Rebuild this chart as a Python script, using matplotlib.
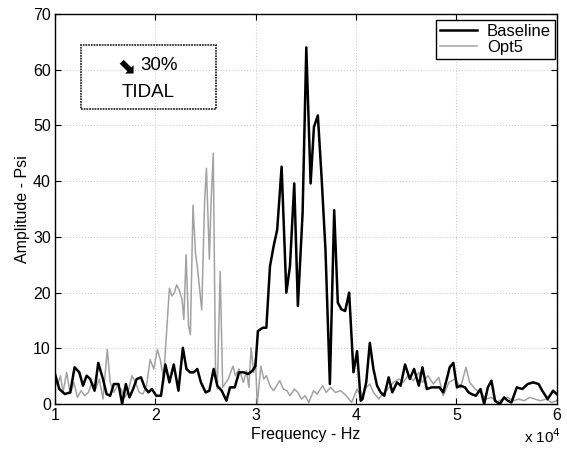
import matplotlib.pyplot as plt
from matplotlib.patches import Rectangle
from matplotlib.ticker import FuncFormatter, MultipleLocator

plt.rcParams['font.family'] = ['Liberation Sans', 'DejaVu Sans']

# Baseline spectrum (frequency in Hz, amplitude in psi)
freq_base = [10000, 10430, 10980, 11520, 11950, 12420, 12790, 13150, 13510, 13940,
             14310, 14780, 15140, 15500, 15860, 16330, 16690, 17060, 17420, 17780,
             18140, 18570, 18940, 19300, 19660, 20090, 20560, 21000, 21400, 21830,
             22300, 22740, 23100, 23460, 23820, 24180, 24540, 25010, 25380, 25810,
             26170, 26610, 27080, 27440, 27910, 28340, 28780, 29250, 29680, 29970,
             30220, 30690, 31060, 31420, 31780, 32140, 32580, 33050, 33410, 33840,
             34200, 34670, 35040, 35470, 35800, 36190, 36560, 36950, 37390, 37820,
             38180, 38540, 38910, 39310, 39740, 40100, 40460, 40640, 41010, 41370,
             41730, 42090, 42450, 42810, 43250, 43610, 44080, 44440, 44880, 45350,
             45780, 46250, 46610, 47050, 47520, 47880, 48310, 48680, 49040, 49330,
             49690, 50050, 50410, 50850, 51210, 51500, 51930, 52400, 52760, 53130,
             53490, 53850, 54320, 54750, 55120, 55480, 56020, 56560, 57100, 57640,
             58190, 58550, 59090, 59630, 60000]
amp_base = [5.4, 2.7, 1.8, 2.1, 6.6, 5.7, 3.3, 5.1, 4.5, 2.4,
            7.4, 4.5, 1.8, 1.5, 3.6, 3.6, 0.0, 3.6, 1.2, 2.7,
            4.5, 4.8, 3.0, 2.1, 2.7, 1.5, 1.5, 7.1, 3.9, 7.1,
            2.4, 10.1, 6.3, 5.7, 5.7, 6.3, 3.9, 2.1, 2.4, 6.3,
            3.3, 2.4, 0.6, 3.0, 3.0, 5.7, 5.7, 5.4, 6.0, 6.8,
            13.1, 13.7, 13.7, 24.7, 28.3, 31.3, 42.6, 20.0, 24.7, 39.6,
            17.6, 34.2, 64.0, 39.6, 49.7, 51.8, 40.8, 27.7, 3.6, 34.8,
            18.2, 17.0, 16.7, 20.0, 5.7, 9.5, 0.6, 0.9, 3.9, 11.0,
            6.3, 3.3, 2.1, 1.5, 4.8, 2.1, 3.9, 3.3, 7.1, 4.5,
            6.3, 3.3, 6.6, 2.7, 3.0, 3.0, 3.0, 2.1, 4.5, 6.6,
            7.4, 3.0, 3.3, 3.0, 2.1, 1.8, 1.5, 2.7, 0.0, 3.0,
            4.2, 0.6, 0.0, 1.2, 0.6, 0.3, 3.0, 2.7, 3.6, 3.9,
            3.6, 2.4, 0.9, 2.4, 1.8]

# Opt5 spectrum
freq_opt5 = [10000, 10250, 10540, 10800, 11160, 11520, 11880, 12240, 12600, 12970,
             13330, 13690, 14050, 14410, 14780, 15210, 15500, 15860, 16220, 16580,
             16950, 17310, 17670, 18030, 18390, 18760, 19120, 19480, 19840, 20200,
             20490, 20820, 21110, 21400, 21650, 21900, 22120, 22370, 22660, 22840,
             23060, 23310, 23490, 23750, 24000, 24180, 24440, 24620, 24910, 25090,
             25380, 25560, 25770, 25990, 26170, 26460, 26710, 27260, 27730, 27980,
             28340, 28780, 29070, 29320, 29540, 29790, 29970, 30150, 30510, 30800,
             31060, 31420, 31780, 32390, 32760, 33120, 33410, 33840, 34200, 34570,
             34930, 35290, 35760, 36120, 36660, 37030, 37460, 37930, 38470, 39020,
             39560, 40100, 40460, 41010, 41370, 41730, 42270, 42630, 43180, 43720,
             44260, 44700, 45170, 45710, 46250, 46610, 47160, 47700, 48240, 48680,
             49250, 49870, 50410, 50950, 51320, 51860, 52400, 52940, 53490, 54030,
             54570, 55120, 55660, 56200, 56750, 57290, 57830, 58370, 58910, 59460,
             60000]
amp_opt5 = [4.5, 3.3, 5.1, 2.1, 5.7, 1.8, 3.9, 1.2, 2.4, 1.5,
            2.1, 3.9, 2.7, 4.5, 0.9, 9.8, 3.9, 2.1, 3.3, 2.7,
            1.2, 2.4, 5.1, 3.9, 2.1, 1.8, 3.3, 8.0, 6.3, 9.8,
            8.0, 4.5, 12.8, 20.8, 19.4, 20.0, 21.4, 20.5, 18.8, 15.2,
            26.8, 14.0, 12.5, 35.7, 27.0, 24.7, 20.0, 16.9, 36.6, 42.3,
            26.0, 36.6, 45.0, 6.6, 2.7, 23.8, 3.0, 4.5, 6.8, 5.1,
            6.3, 3.9, 6.0, 3.0, 10.1, 5.7, 8.0, 0.0, 6.8, 4.5,
            5.1, 3.3, 2.4, 4.2, 2.7, 2.4, 1.5, 2.7, 2.1, 0.9,
            1.5, 0.3, 2.4, 1.8, 3.3, 2.1, 3.0, 2.1, 2.4, 1.5,
            0.3, 2.7, 1.2, 3.0, 3.6, 2.1, 0.9, 1.8, 2.7, 3.9,
            4.5, 3.9, 5.1, 4.2, 5.7, 3.9, 5.1, 3.6, 4.8, 1.5,
            3.9, 4.5, 3.0, 6.6, 3.9, 2.7, 2.1, 0.9, 1.2, 0.3,
            0.9, 1.2, 0.6, 0.9, 0.6, 1.2, 0.9, 0.6, 0.9, 0.3,
            0.6]

fig = plt.figure(figsize=(5.67, 4.51), dpi=100)
ax = fig.add_axes([0.097, 0.104, 0.885, 0.865])

ax.plot(freq_opt5, amp_opt5, color='#a2a2a2', linewidth=1.1, label='Opt5', zorder=2)
ax.plot(freq_base, amp_base, color='black', linewidth=1.8, label='Baseline', zorder=3)

ax.set_xlim(10000, 60000)
ax.set_ylim(0, 70)
ax.xaxis.set_major_locator(MultipleLocator(10000))
ax.yaxis.set_major_locator(MultipleLocator(10))
ax.xaxis.set_major_formatter(FuncFormatter(lambda v, p: f'{v / 1e4:g}'))
ax.tick_params(direction='in', top=True, right=True, labelsize=11.5, length=4, pad=3)
ax.grid(True, color='#cfcfcf', linestyle=':', linewidth=0.8)
for s in ax.spines.values():
    s.set_linewidth(1.0)

ax.set_xlabel('Frequency - Hz', fontsize=11.5, labelpad=3)
ax.set_ylabel('Amplitude - Psi', fontsize=11.5, labelpad=2)
fig.text(0.99, 0.01, 'x 10$^4$', ha='right', va='bottom', fontsize=11)

# legend with Baseline first
h, l = ax.get_legend_handles_labels()
leg = ax.legend(h[::-1], l[::-1], loc='upper right', bbox_to_anchor=(0.997, 0.985),
                borderaxespad=0.0, fontsize=12,
                fancybox=False, framealpha=1, edgecolor='black',
                handlelength=2.2, borderpad=0.25, labelspacing=0.05, handletextpad=0.6)
leg.get_frame().set_linewidth(1.0)

# annotation box
ax.add_patch(Rectangle((0.051, 0.757), 0.27, 0.163, transform=ax.transAxes,
                       fill=False, edgecolor='#333333', linewidth=1.3,
                       linestyle=(0, (1, 0.5)), zorder=4))
ax.text(0.14, 0.866, '\u2b0a', transform=ax.transAxes, ha='center', va='center',
        fontsize=16, fontweight='bold', family=['DejaVu Sans'], zorder=5)
ax.text(0.207, 0.869, '30%', transform=ax.transAxes, ha='center', va='center',
        fontsize=13.5, zorder=5)
ax.text(0.186, 0.80, 'TIDAL', transform=ax.transAxes, ha='center', va='center',
        fontsize=13.5, zorder=5)

fig.savefig('out.png', dpi=100)
